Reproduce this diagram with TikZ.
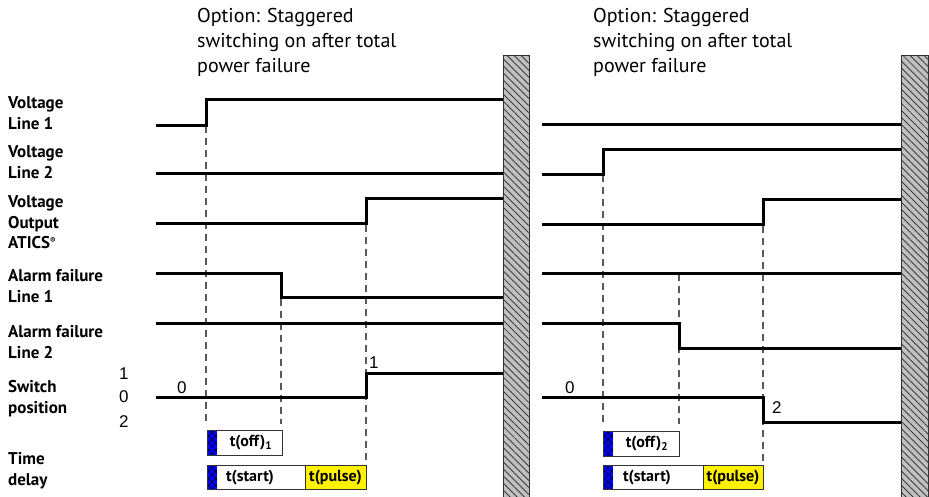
\documentclass[tikz,border=0pt]{standalone}
\usepackage{fontspec}
\setmainfont{PT Sans}
\newfontfamily\arialfont{Liberation Sans}
\usetikzlibrary{patterns,patterns.meta}
\begin{document}
\begin{tikzpicture}[x=1pt,y=-1pt,
  sig/.style={line width=3pt, line join=miter},
  guide/.style={draw=black!65, line width=1.2pt, dash pattern=on 7pt off 5pt},
  lbl/.style={anchor=base west, inner sep=0, font=\bfseries\fontsize{17}{21}\selectfont},
  ttl/.style={anchor=base west, inner sep=0, font=\fontsize{20}{25}\selectfont},
  num/.style={anchor=base west, inner sep=0, font=\arialfont\fontsize{17}{20}\selectfont},
  bx/.style={draw=black!80, line width=0.8pt},
  bxt/.style={inner sep=0, font=\bfseries\fontsize{16}{18}\selectfont},
  wall/.style={draw=black!80, line width=0.8pt, fill=black!25,
     postaction={pattern={Lines[angle=-45,distance=5pt,line width=0.7pt]}, pattern color=black!85}},
  bluehatch/.style={fill=blue, postaction={pattern={Hatch[angle=45,distance=5pt,line width=0.5pt]}, pattern color=black}}
]
\useasboundingbox (0,0) rectangle (929,496);

% left labels
\node[lbl] (l1a) at (8,108) {Voltage};
\node[lbl] (l1b) at (8,129) {Line 1};
\node[lbl] (l2a) at (8,157) {Voltage};
\node[lbl] (l2b) at (8,178) {Line 2};
\node[lbl] (l3a) at (8,207) {Voltage};
\node[lbl] (l3b) at (8,228) {Output};
\node[lbl] (l3c) at (8,248) {ATICS\raisebox{5pt}{\fontsize{8}{8}\selectfont\textregistered}};
\node[lbl] (l4a) at (8,281) {Alarm failure};
\node[lbl] (l4b) at (8,302) {Line 1};
\node[lbl] (l5a) at (8,337) {Alarm failure};
\node[lbl] (l5b) at (8,358) {Line 2};
\node[lbl] (l6a) at (8,392) {Switch};
\node[lbl] (l6b) at (8,413) {position};
\node[lbl] (l7a) at (8,464) {Time};
\node[lbl] (l7b) at (8,485) {delay};

\node[num] (p1) at (119,379) {1};
\node[num] (p0) at (119,402) {0};
\node[num] (p2) at (119,427) {2};

% titles
\node[ttl] (ta1) at (197,22) {Option: Staggered};
\node[ttl] (ta2) at (197,47) {switching on after total};
\node[ttl] (ta3) at (197,72) {power failure};
\node[ttl] (tb1) at (593,22) {Option: Staggered};
\node[ttl] (tb2) at (593,47) {switching on after total};
\node[ttl] (tb3) at (593,72) {power failure};

% guides left
\draw[guide] (206,126) -- (206,424);
\draw[guide] (281,299) -- (281,424);
\draw[guide] (366,225) -- (366,462);
% guides right
\draw[guide] (603,175) -- (603,424);
\draw[guide] (679,274) -- (679,424);
\draw[guide] (763,226) -- (763,462);

% signals left
\draw[sig] (156,125) -- (206,125) -- (206,99) -- (503,99);
\draw[sig] (156,173) -- (503,173);
\draw[sig] (156,223) -- (366,223) -- (366,198) -- (503,198);
\draw[sig] (156,273) -- (281,273) -- (281,297) -- (503,297);
\draw[sig] (156,323) -- (503,323);
\draw[sig] (156,397) -- (366,397) -- (366,373) -- (503,373);
% signals right
\draw[sig] (542,124) -- (901,124);
\draw[sig] (542,174) -- (603,174) -- (603,149) -- (901,149);
\draw[sig] (542,224) -- (763,224) -- (763,199) -- (901,199);
\draw[sig] (542,273) -- (901,273);
\draw[sig] (542,323) -- (679,323) -- (679,348) -- (901,348);
\draw[sig] (542,397) -- (763,397) -- (763,422) -- (901,422);

\node[num] (sa0) at (177,393) {0};
\node[num] (sa1) at (369,368) {1};
\node[num] (sb0) at (565,393) {0};
\node[num] (sb2) at (772,413) {2};

% walls
\draw[wall] (503,55) rectangle (529,497);
\draw[wall] (901,55) rectangle (928,497);

% boxes left
\fill[bluehatch] (207,430) rectangle (217,455);
\draw[bx] (207,430) rectangle (282,455);
\node[bxt] (offa) at (251,443) {t(off)\textsubscript{1}};
\fill[bluehatch] (207,465) rectangle (217,489);
\fill[yellow] (305,465) rectangle (366,489);
\draw[bx] (207,465) rectangle (366,489);
\draw[bx] (305,465) -- (305,489);
\node[bxt] (sta) at (250,477.5) {t(start)};
\node[bxt] (pua) at (335.5,477.5) {t(pulse)};

% boxes right
\fill[bluehatch] (603,431) rectangle (613,456);
\draw[bx] (603,431) rectangle (679,456);
\node[bxt] (offb) at (647,444) {t(off)\textsubscript{2}};
\fill[bluehatch] (603,465) rectangle (613,489);
\fill[yellow] (703,465) rectangle (763,489);
\draw[bx] (603,465) rectangle (763,489);
\draw[bx] (703,465) -- (703,489);
\node[bxt] (stb) at (647,477.5) {t(start)};
\node[bxt] (pub) at (733,477.5) {t(pulse)};
\end{tikzpicture}
\end{document}
